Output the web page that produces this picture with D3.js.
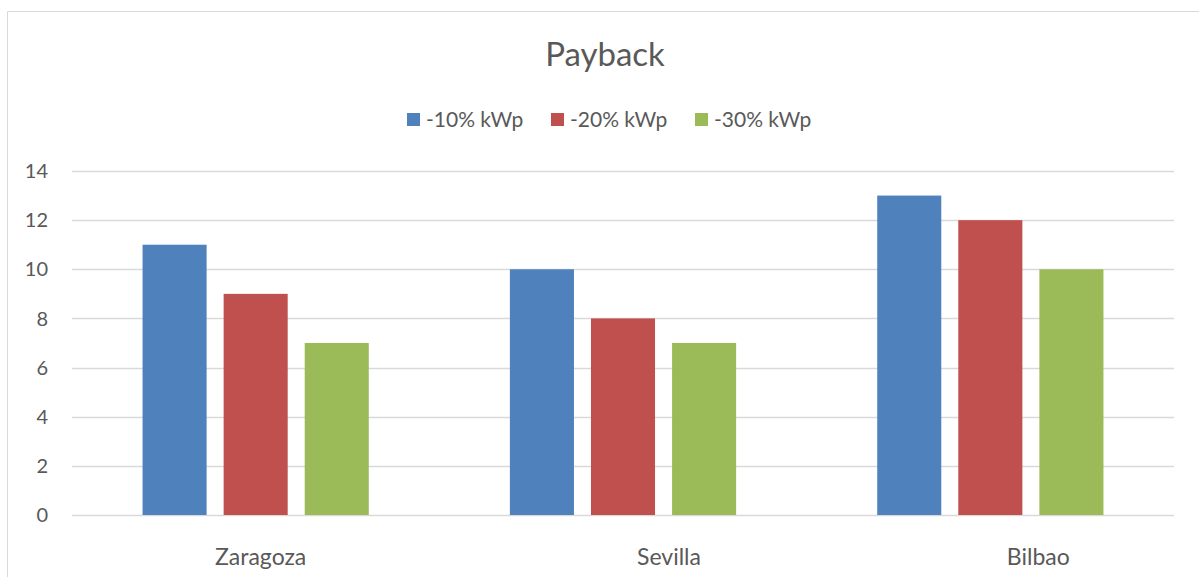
<!DOCTYPE html>
<html>
<head>
<meta charset="utf-8">
<script src="https://cdn.jsdelivr.net/npm/d3@7"></script>
<style>
  body { margin: 0; background: #fff; }
  svg { display: block; font-family: Lato, "Open Sans", sans-serif; }
</style>
</head>
<body>
<svg id="chart" width="1199" height="577"></svg>
<script>
// chart values
var cities = ["Zaragoza", "Sevilla", "Bilbao"];
var seriesNames = ["-10% kWp", "-20% kWp", "-30% kWp"];
var series10 = [11, 10, 13];
var series20 = [9, 8, 12];
var series30 = [7, 7, 10];
var yTicks = [0, 2, 4, 6, 8, 10, 12, 14];
var colors = ["#4f81bd", "#c0504d", "#9bbb59"];

var allSeries = [series10, series20, series30];
var svg = d3.select("#chart");
var textColor = "#595959";

// outer chart border (left and top only visible)
svg.append("path")
  .attr("d", "M7.5,577 L7.5,11.5 L1199,11.5")
  .attr("fill", "none")
  .attr("stroke", "#d9d9d9")
  .attr("stroke-width", 1);

var plot = { left: 72, right: 1174, top: 171, bottom: 515 };

var x = d3.scaleBand()
  .domain(cities)
  .range([plot.left, plot.right]);

var x1 = d3.scaleBand()
  .domain(seriesNames)
  .range([0, x.bandwidth()])
  .paddingInner(0.21)
  .paddingOuter(0.87);

var y = d3.scaleLinear()
  .domain([0, 14])
  .range([plot.bottom, plot.top]);

// gridlines
svg.append("g")
  .selectAll("line")
  .data(yTicks)
  .enter()
  .append("line")
  .attr("x1", plot.left)
  .attr("x2", plot.right)
  .attr("y1", function (d) { return Math.round(y(d)) + 0.5; })
  .attr("y2", function (d) { return Math.round(y(d)) + 0.5; })
  .attr("stroke", "#d9d9d9")
  .attr("stroke-width", 1.5);

// y tick labels
svg.append("g")
  .selectAll("text")
  .data(yTicks)
  .enter()
  .append("text")
  .attr("x", 48)
  .attr("y", function (d) { return y(d); })
  .attr("dy", "0.36em")
  .attr("text-anchor", "end")
  .attr("fill", textColor)
  .style("font-size", "20px")
  .text(function (d) { return d; });

// bars
var groups = svg.append("g")
  .selectAll("g")
  .data(cities)
  .enter()
  .append("g")
  .attr("transform", function (c) { return "translate(" + x(c) + ",0)"; });

groups.selectAll("rect")
  .data(function (c, i) {
    return seriesNames.map(function (s, j) {
      return { name: s, value: allSeries[j][i], color: colors[j] };
    });
  })
  .enter()
  .append("rect")
  .attr("x", function (d) { return x1(d.name); })
  .attr("width", x1.bandwidth())
  .attr("y", function (d) { return y(d.value); })
  .attr("height", function (d) { return y(0) - y(d.value); })
  .attr("fill", function (d) { return d.color; });

// category labels (the original sits a bit right of band centre)
var labelShift = [5, 46, 48];
svg.append("g")
  .selectAll("text")
  .data(cities)
  .enter()
  .append("text")
  .attr("x", function (c, i) { return x(c) + x.bandwidth() / 2 + labelShift[i]; })
  .attr("y", 565)
  .attr("text-anchor", "middle")
  .attr("fill", textColor)
  .style("font-size", "23px")
  .text(function (c) { return c; });

// title
svg.append("text")
  .attr("x", 605)
  .attr("y", 66)
  .attr("text-anchor", "middle")
  .attr("fill", textColor)
  .style("font-size", "33px")
  .text("Payback");

// legend
var legendX = [407, 551, 695];
var legend = svg.append("g")
  .selectAll("g")
  .data(seriesNames)
  .enter()
  .append("g")
  .attr("transform", function (d, i) { return "translate(" + legendX[i] + ",113)"; });

legend.append("rect")
  .attr("width", 13)
  .attr("height", 13)
  .attr("fill", function (d, i) { return colors[i]; });

legend.append("text")
  .attr("x", 19)
  .attr("y", 6.5)
  .attr("dy", "0.36em")
  .attr("fill", textColor)
  .style("font-size", "21px")
  .text(function (d) { return d; });
</script>
</body>
</html>
